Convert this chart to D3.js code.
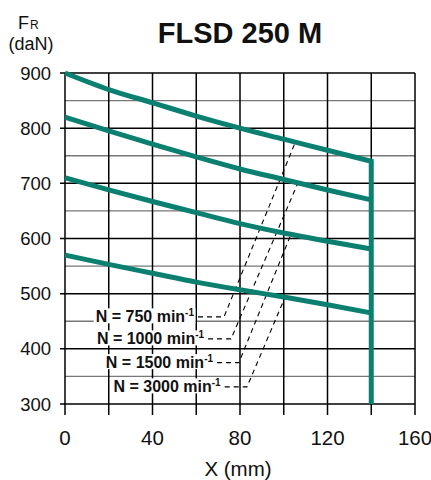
<!DOCTYPE html>
<html><head><meta charset="utf-8">
<script src="https://cdn.jsdelivr.net/npm/d3@7"></script>
<style>body{margin:0;background:#fff}svg{display:block}</style>
</head><body><svg id="c" width="431" height="480"></svg>
<script>
const xValues = [0, 20, 40, 60, 80, 100, 120, 140];
const speeds = ["750", "1000", "1500", "3000"];
const fr750  = [900, 870, 846, 822, 800, 780, 760, 740];
const fr1000 = [820, 795, 771, 748, 726, 707, 688, 670];
const fr1500 = [710, 688, 667, 647, 627, 610, 595, 581];
const fr3000 = [570, 553, 537, 521, 507, 494, 480, 465];
const xTicks = [0, 40, 80, 120, 160];
const xGrid = [0, 20, 40, 60, 80, 100, 120, 140, 160];
const yTicks = [300, 400, 500, 600, 700, 800, 900];
const yGrid = [300, 350, 400, 450, 500, 550, 600, 650, 700, 750, 800, 850, 900];
// leader annotation: label level (daN), dash start/end x (mm), end x on curve (mm)
const labelLevel = [458, 418, 375, 331];
const dashStart = [60.8, 65.4, 69.5, 73.0];
const dashEnd = [72.7, 75.9, 79.5, 83.2];
const leaderEndX = [105.3, 106.5, 103.3, 100.6];
const shaftEndX = 140;

const series = [fr750, fr1000, fr1500, fr3000];
const teal = "#0b8070";
const svg = d3.select("#c");
const m = {l: 65, r: 16, t: 73, b: 76};
const W = 431, H = 480;
const x = d3.scaleLinear().domain([0, 160]).range([m.l, W - m.r]);
const y = d3.scaleLinear().domain([300, 900]).range([H - m.b, m.t]);
const font = "'Liberation Sans', Arial, sans-serif";

// grid
const g = svg.append("g");
g.selectAll("line.h").data(yGrid).join("line")
  .attr("x1", d => d % 100 === 0 ? x(0) - 5 : x(0)).attr("x2", x(160))
  .attr("y1", d => y(d)).attr("y2", d => y(d))
  .attr("stroke", d => d % 100 === 0 ? "#000" : "#777")
  .attr("stroke-width", d => d % 100 === 0 ? 1.5 : 1.3);
g.selectAll("line.v").data(xGrid).join("line")
  .attr("x1", d => x(d)).attr("x2", d => x(d))
  .attr("y1", y(900)).attr("y2", y(300) + 11)
  .attr("stroke", "#000").attr("stroke-width", 1.5);

// tick labels
svg.append("g").selectAll("text").data(yTicks).join("text")
  .attr("x", x(0) - 14).attr("y", d => y(d) + 6.5)
  .attr("text-anchor", "end").attr("font-family", font).attr("font-size", 18.5)
  .attr("fill", "#111").text(d => d);
svg.append("g").selectAll("text").data(xTicks).join("text")
  .attr("x", d => x(d)).attr("y", 445)
  .attr("text-anchor", "middle").attr("font-family", font).attr("font-size", 20.5)
  .attr("fill", "#111").text(d => d);
svg.append("text").attr("x", 238).attr("y", 476).attr("text-anchor", "middle")
  .attr("font-family", font).attr("font-size", 20.5).attr("fill", "#111").text("X (mm)");
const fr = svg.append("text").attr("x", 18).attr("y", 29).attr("font-family", font).attr("fill", "#111");
fr.append("tspan").attr("font-size", 18).text("F");
fr.append("tspan").attr("font-size", 12).attr("dx", 1).text("R");
svg.append("text").attr("x", 31).attr("y", 50).attr("text-anchor", "middle")
  .attr("font-family", font).attr("font-size", 18).attr("fill", "#111").text("(daN)");
svg.append("text").attr("x", 240).attr("y", 43).attr("text-anchor", "middle")
  .attr("font-family", font).attr("font-weight", "bold").attr("font-size", 29)
  .attr("fill", "#111").text("FLSD 250 M");

// curves
const line = d3.line().x(d => x(d[0])).y(d => y(d[1])).curve(d3.curveMonotoneX);
const curveAt = (s, xv) => {
  const i = Math.min(Math.floor(xv / 20), xValues.length - 2);
  const t = (xv - xValues[i]) / 20;
  return s[i] + (s[i + 1] - s[i]) * t;
};

// leaders (dashed) and labels
const lab = svg.append("g");
speeds.forEach((sp, i) => {
  const yl = labelLevel[i];
  const ex = leaderEndX[i];
  const ey = curveAt(series[i], ex);
  lab.append("path")
    .attr("d", d3.line()([[x(dashStart[i]), y(yl)], [x(dashEnd[i]), y(yl)], [x(ex), y(ey)]]))
    .attr("fill", "none").attr("stroke", "#000").attr("stroke-width", 1.1)
    .attr("stroke-dasharray", "5,4");
});
const shaft = [[shaftEndX, fr750[fr750.length - 1]], [shaftEndX, 300]];
series.forEach((s, i) => {
  const pts = xValues.map((xv, j) => [xv, s[j]]);
  svg.append("path").attr("d", i === 0 ? line(pts) + "L" + x(shaft[1][0]) + "," + y(shaft[1][1]) : line(pts))
    .attr("fill", "none").attr("stroke", teal).attr("stroke-width", 5)
    .attr("stroke-linejoin", "miter");
});
speeds.forEach((sp, i) => {
  const yl = labelLevel[i];
  const gx = lab.append("g");
  const t = gx.append("text").attr("x", x(dashStart[i]) - 4).attr("y", y(yl) + 5.5)
    .attr("text-anchor", "end").attr("font-family", "'Liberation Sans Narrow', 'Arial Narrow', sans-serif")
    .attr("font-weight", "bold").attr("font-size", 16).attr("fill", "#111");
  t.append("tspan").text("N = " + sp + " min");
  t.append("tspan").attr("font-size", 10).attr("dy", -6).text("-1");
  const bb = t.node().getBBox();
  gx.insert("rect", "text").attr("x", bb.x - 2).attr("y", bb.y + 1)
    .attr("width", bb.width + 3).attr("height", bb.height - 3).attr("fill", "#fff");
});
</script></body></html>
